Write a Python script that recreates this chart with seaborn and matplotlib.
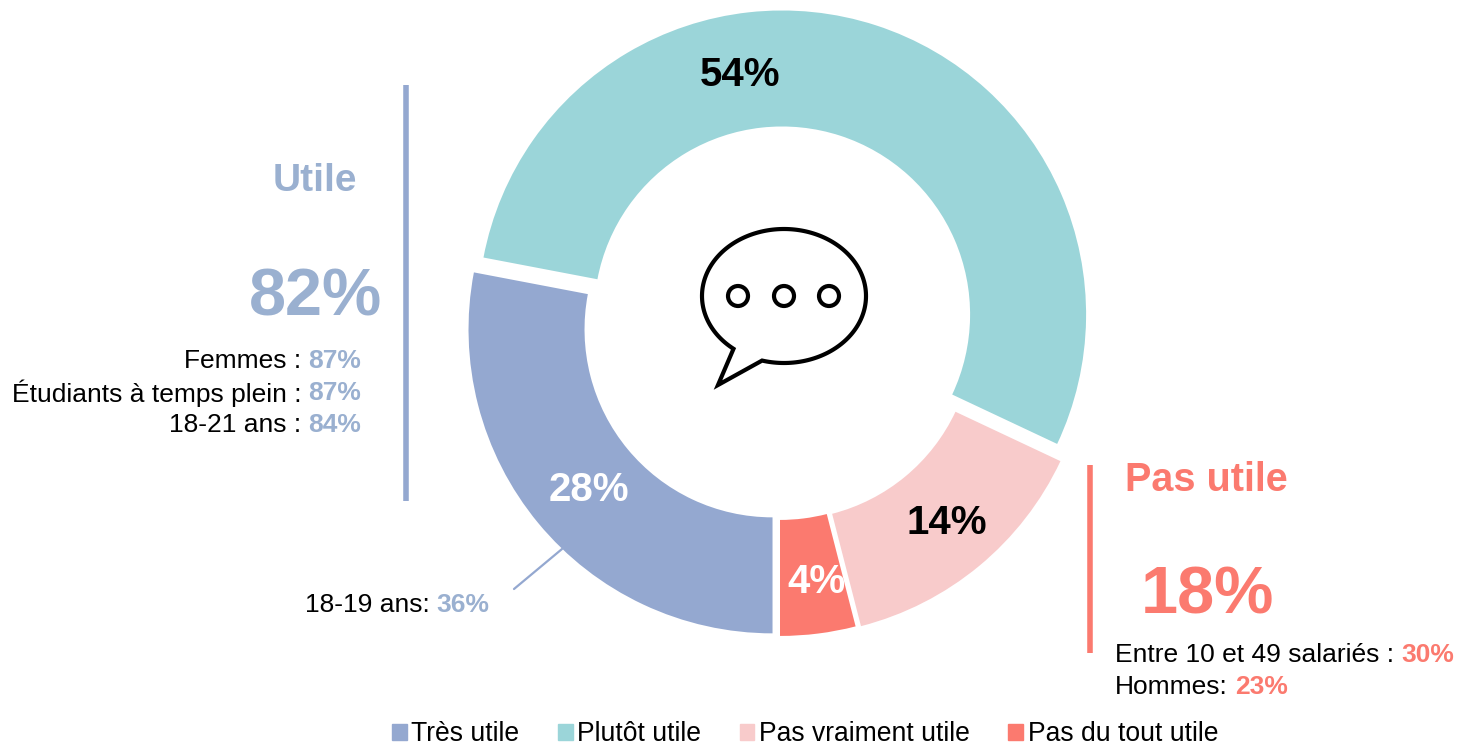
import numpy as np
import seaborn as sns
import matplotlib.pyplot as plt
from matplotlib.patches import Circle, Patch, Polygon

W, H = 1458, 746

# slices, in the order they run anticlockwise from the bottom of the ring
categories = ["Pas du tout utile", "Pas vraiment utile", "Plutôt utile", "Très utile"]
values = [4, 14, 54, 28]
legend_order = ["Très utile", "Plutôt utile", "Pas vraiment utile", "Pas du tout utile"]

utile_total = 82
pas_utile_total = 18
utile_lines = [("Femmes :", 87), ("Étudiants à temps plein :", 87), ("18-21 ans :", 84)]
pas_utile_lines = [("Entre 10 et 49 salariés :", 30), ("Hommes:", 23)]
callout = ("18-19 ans:", 36)

colors = sns.color_palette(["#FB7A6F", "#F8CBCB", "#9BD5D9", "#94A8D0"])
blue_text = "#9AB0D0"
red_text = "#FB7A6F"

sns.set_theme(style="white")
plt.rcParams["font.family"] = ["Liberation Sans", "DejaVu Sans"]
plt.rcParams["text.color"] = "black"

fig = plt.figure(figsize=(W / 100, H / 100), dpi=100)
ax = fig.add_axes([0, 0, 1, 1])


def py(y):
    # picture y (from the top) to axes y
    return H - y


# the slices are pulled apart by different amounts in the reference
wedges, _ = ax.pie(values, colors=colors, startangle=270, counterclock=True,
                   explode=[8, 10, 10, 8.4],
                   center=(779, py(324)), radius=304, frame=True,
                   wedgeprops=dict(width=116, linewidth=0))
ax.set_xlim(0, W)
ax.set_ylim(0, H)
ax.set_aspect("equal")
ax.axis("off")

# percent labels on the ring
label_pos = [(817, 582), (947, 523), (740, 75), (589, 490)]
label_col = ["white", "black", "black", "white"]
for v, (x, y), c in zip(values, label_pos, label_col):
    ax.text(x, py(y), f"{v}%", ha="center", va="center", fontsize=29, fontweight="bold", color=c)

# side bars
ax.plot([406, 406], [py(85), py(501)], color=colors[3], lw=4, solid_capstyle="butt")
ax.plot([1090, 1090], [py(465), py(653)], color=colors[0], lw=4, solid_capstyle="butt")
ax.plot([514, 562], [py(589), py(549)], color=colors[3], lw=1.6)

ax.text(315, py(181), "Utile", ha="center", va="center", fontsize=28, fontweight="bold", color=blue_text)
ax.text(316, py(298), f"{utile_total}%", ha="center", va="center", fontsize=48, fontweight="bold", color=blue_text)
ax.text(1206, py(480), "Pas utile", ha="center", va="center", fontsize=28.5, fontweight="bold", color=red_text)
ax.text(1207, py(597), f"{pas_utile_total}%", ha="center", va="center", fontsize=48, fontweight="bold", color=red_text)

renderer = fig.canvas.get_renderer()
inv = ax.transData.inverted()


def two_part_left(x, y, label, pct, col):
    t = ax.text(x, py(y), label, ha="left", va="center_baseline", fontsize=19)
    right = inv.transform(t.get_window_extent(renderer).get_points())[1][0]
    ax.text(right + 7, py(y), f"{pct}%", ha="left", va="center_baseline", fontsize=19, fontweight="bold", color=col)


for (label, pct), y in zip(utile_lines, [359, 391, 423]):
    t = ax.text(361, py(y), f"{pct}%", ha="right", va="center_baseline", fontsize=19, fontweight="bold", color=blue_text)
    left = inv.transform(t.get_window_extent(renderer).get_points())[0][0]
    ax.text(left - 7, py(y), label, ha="right", va="center_baseline", fontsize=19)

for (label, pct), y in zip(pas_utile_lines, [653, 685]):
    two_part_left(1115, y, label, pct, red_text)

two_part_left(305, 602, callout[0], callout[1], blue_text)

# speech bubble in the hole
cx, cy, a, b = 784, 296, 82, 67
t = np.radians(np.linspace(254.5, 592, 200))
bubble = np.column_stack([cx + a * np.cos(t), py(cy) + b * np.sin(t)])
bubble = np.vstack([bubble, [718, py(385)]])
ax.add_patch(Polygon(bubble, closed=True, fill=False, edgecolor="black", lw=3, joinstyle="miter"))
for x in [738, 784, 829]:
    ax.add_patch(Circle((x, py(296)), 10, fill=False, edgecolor="black", lw=3))

# legend
col_by_name = dict(zip(categories, colors))
handles = [Patch(color=col_by_name[n], label=n) for n in legend_order]
ax.legend(handles=handles, ncol=4, loc="lower left", bbox_to_anchor=(392 / W, -1 / H),
          frameon=False, fontsize=19.1, borderpad=0, borderaxespad=0,
          handlelength=0.55, handleheight=0.55, handletextpad=0.18, columnspacing=1.45)

fig.savefig("out.png", dpi=100)
